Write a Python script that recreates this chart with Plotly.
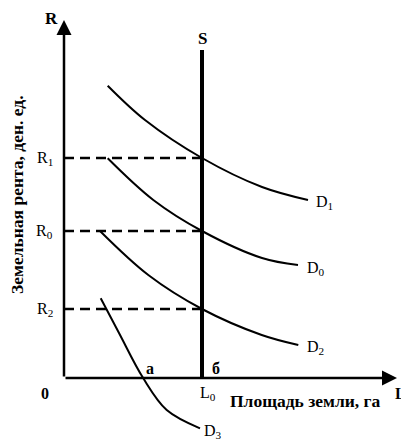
import plotly.graph_objects as go

# Chart values (units: distance from the origin of the diagram)
L0 = 138
rent_levels = {"R1": 220, "R0": 147, "R2": 69}
s_top = 328

d1_x = [43.7, 81, 138, 198, 244]
d1_y = [292.3, 258, 220, 191, 178]

d0_x = [43.7, 89.3, 138, 198, 234]
d0_y = [219.7, 178, 147, 120, 113]

d2_x = [36, 84.3, 138, 197.7, 234.3]
d2_y = [147, 103, 69, 43, 33]

d3_x = [36.7, 55, 79.3, 102.7, 136]
d3_y = [79.7, 45, -0.3, -32, -50.3]

FONT = "Liberation Serif, Times New Roman, serif"

fig = go.Figure()

# Dashed rent levels
for name, r in rent_levels.items():
    fig.add_trace(go.Scatter(x=[0, L0], y=[r, r], mode="lines",
                             line=dict(color="black", width=2.5, dash="10px,6px")))

# Supply of land (vertical)
fig.add_trace(go.Scatter(x=[L0, L0], y=[0, s_top], mode="lines",
                         line=dict(color="black", width=4)))

# Demand curves
for xs, ys in [(d1_x, d1_y), (d0_x, d0_y), (d2_x, d2_y), (d3_x, d3_y)]:
    fig.add_trace(go.Scatter(x=xs, y=ys, mode="lines", line_shape="spline",
                             line=dict(color="black", width=2)))

# Axes with arrows
fig.add_annotation(x=0, y=358, ax=0, ay=0, xref="x", yref="y", axref="x", ayref="y",
                   text="", showarrow=True, arrowhead=2, arrowsize=1.2, arrowwidth=2.5,
                   arrowcolor="black")
fig.add_annotation(x=333, y=0, ax=0, ay=0, xref="x", yref="y", axref="x", ayref="y",
                   text="", showarrow=True, arrowhead=2, arrowsize=1.2, arrowwidth=2.5,
                   arrowcolor="black")

def label(x, y, text, size=16, bold=False, xanchor="center", angle=0):
    if bold:
        text = "<b>" + text + "</b>"
    fig.add_annotation(x=x, y=y, text=text, showarrow=False, xanchor=xanchor,
                       textangle=angle, font=dict(family=FONT, size=size, color="black"))

for name, r in rent_levels.items():
    label(-9, r, name[0] + "<sub>" + name[1] + "</sub>", xanchor="right")

label(d1_x[-1] + 6, d1_y[-1] - 2, "D<sub>1</sub>", xanchor="left")
label(d0_x[-1] + 7, d0_y[-1] - 3, "D<sub>0</sub>", xanchor="left")
label(d2_x[-1] + 7, d2_y[-1] - 2, "D<sub>2</sub>", xanchor="left")
label(d3_x[-1] + 2, d3_y[-1] - 3, "D<sub>3</sub>", xanchor="left")

label(-13, 360, "R", size=17, bold=True)
label(L0, 340, "S", size=17, bold=True)
label(-19, -15, "0", size=16, bold=True)
label(L0 + 6, -15, "L<sub>0</sub>")
label(336, -15, "L", size=16, bold=True)
label(241, -23, "Площадь земли, га", size=17.5, bold=True)
label(86, 10, "а", size=16, bold=True)
label(152, 10, "б", size=16, bold=True)
label(-47, 183, "Земельная рента, ден. ед.", size=17.5, bold=True, angle=-90)

# the page adds an 8px body margin, so the figure is 8px smaller than the window
fig.update_layout(
    width=401, height=433,
    margin=dict(l=0, r=0, t=0, b=0),
    paper_bgcolor="white", plot_bgcolor="white",
    showlegend=False,
    xaxis=dict(range=[-56, 345], visible=False, fixedrange=True),
    yaxis=dict(range=[-63, 370], visible=False, fixedrange=True),
)

fig.write_html("out.html")
